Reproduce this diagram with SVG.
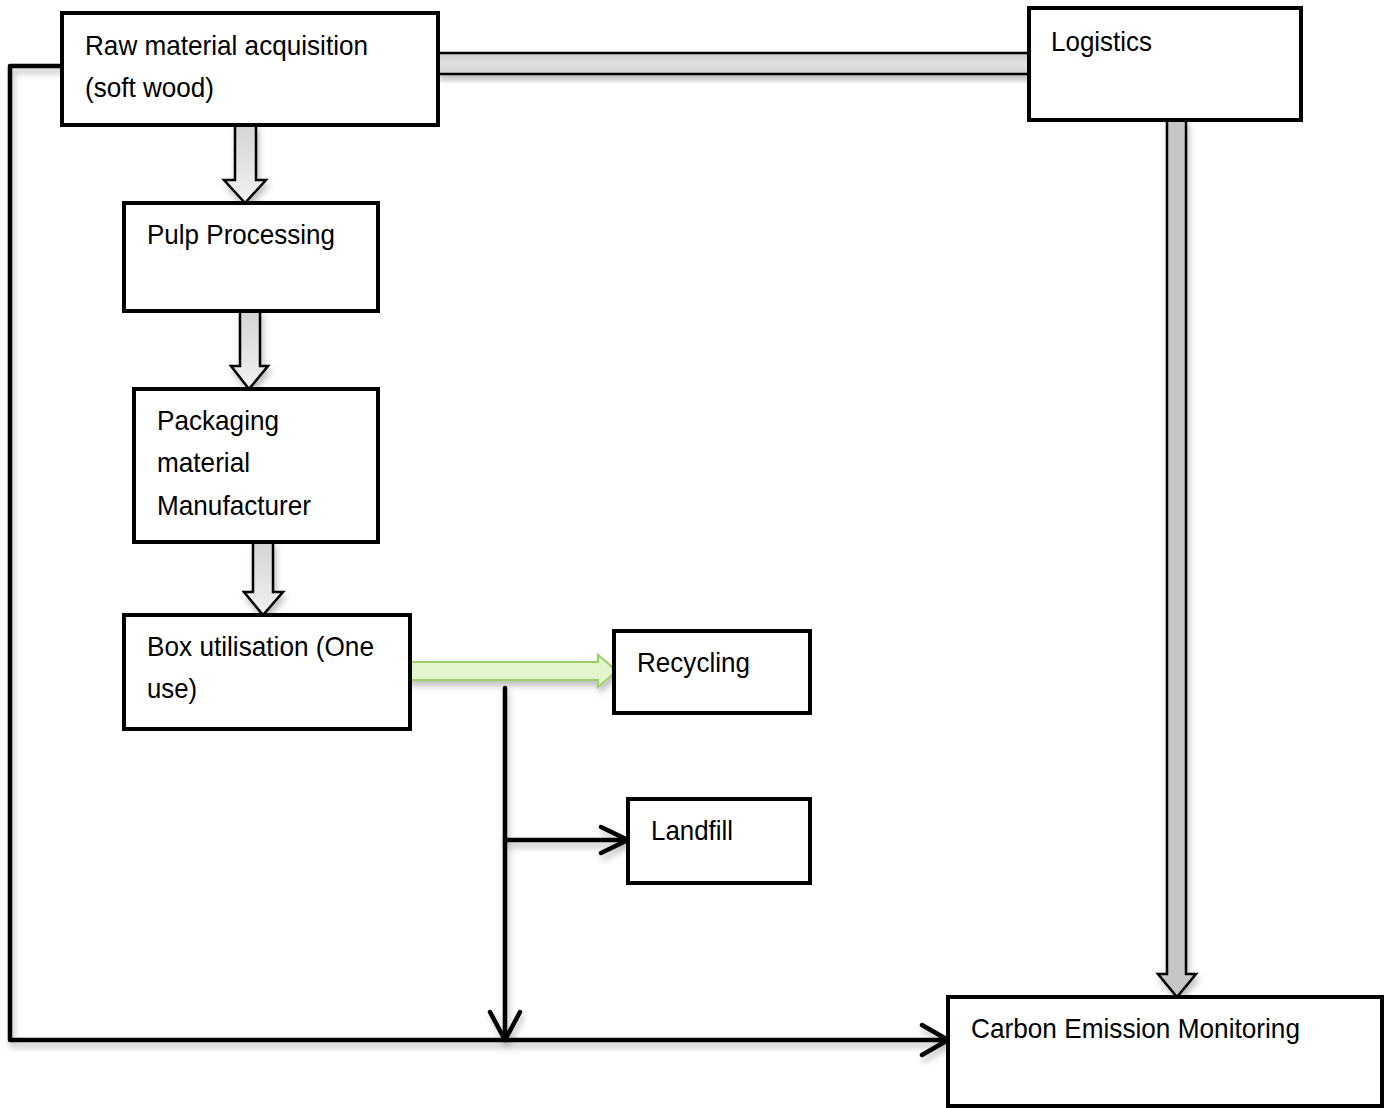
<svg xmlns="http://www.w3.org/2000/svg" width="1392" height="1108" viewBox="0 0 1392 1108">
<style>
.box{fill:#fff;stroke:#000;stroke-width:4}
.t{font-family:"Liberation Sans",Arial,sans-serif;font-size:28px;fill:#000}
.blk{fill:url(#gv);stroke:#000;stroke-width:2.5;stroke-linejoin:miter}
.ln{fill:none;stroke:#000;stroke-width:4.5;stroke-linecap:round;stroke-linejoin:round}
</style>
<defs>
<linearGradient id="gv" x1="0" y1="0" x2="0" y2="1">
<stop offset="0" stop-color="#d4d4d4"/><stop offset="1" stop-color="#f2f2f2"/>
</linearGradient>
<linearGradient id="gh" x1="0" y1="0" x2="0" y2="1">
<stop offset="0" stop-color="#c8c8c8"/><stop offset="0.5" stop-color="#e2e2e2"/><stop offset="1" stop-color="#d0d0d0"/>
</linearGradient>
<filter id="sh" x="-20%" y="-20%" width="140%" height="160%">
<feDropShadow dx="2" dy="5" stdDeviation="3" flood-color="#000" flood-opacity="0.25"/>
</filter>
</defs>
<g id="connectors">
<path class="ln" filter="url(#sh)" d="M62,66 H10 V1040 H948 M922,1025 L948,1040 L922,1055"/>
<path class="ln" filter="url(#sh)" d="M505,688 V1040 M490,1012 L505,1040 L520,1012"/>
<path class="ln" filter="url(#sh)" d="M505,840 H628 M601,827 L628,840 L601,853"/>
<rect x="438" y="53" width="591" height="21" fill="url(#gh)" stroke="#000" stroke-width="2.5" filter="url(#sh)"/>
<path class="blk" filter="url(#sh)" d="M235,125 H256 V180 H266 L245,203 L224,180 H235 Z"/>
<path class="blk" filter="url(#sh)" d="M240,311 H260 V366 H268 L249,389 L231,366 H240 Z"/>
<path class="blk" filter="url(#sh)" d="M253,542 H273 V592 H283 L263,615 L244,592 H253 Z"/>
<path filter="url(#sh)" d="M1167,120 H1186 V974 H1196 L1177,997 L1158,974 H1167 Z" fill="#c6c6c6" stroke="#000" stroke-width="2.5"/>
<path filter="url(#sh)" d="M409,662 H598 V655 L617,671 L598,687 V680 H409 Z" fill="#e3f5cc" stroke="#9ccf66" stroke-width="2"/>
</g>
<g id="raw"><rect class="box" x="62" y="13" width="376" height="112"/>
<text class="t" x="85" y="55" textLength="283" lengthAdjust="spacingAndGlyphs">Raw material acquisition</text>
<text class="t" x="85" y="97" textLength="129" lengthAdjust="spacingAndGlyphs">(soft wood)</text></g>
<g id="logistics"><rect class="box" x="1029" y="8" width="272" height="112"/>
<text class="t" x="1051" y="51" textLength="101" lengthAdjust="spacingAndGlyphs">Logistics</text></g>
<g id="pulp"><rect class="box" x="124" y="203" width="254" height="108"/>
<text class="t" x="147" y="244" textLength="188" lengthAdjust="spacingAndGlyphs">Pulp Processing</text></g>
<g id="packaging"><rect class="box" x="134" y="389" width="244" height="153"/>
<text class="t" x="157" y="430" textLength="122" lengthAdjust="spacingAndGlyphs">Packaging</text>
<text class="t" x="157" y="472" textLength="93" lengthAdjust="spacingAndGlyphs">material</text>
<text class="t" x="157" y="515" textLength="154" lengthAdjust="spacingAndGlyphs">Manufacturer</text></g>
<g id="box"><rect class="box" x="124" y="615" width="286" height="114"/>
<text class="t" x="147" y="656" textLength="227" lengthAdjust="spacingAndGlyphs">Box utilisation (One</text>
<text class="t" x="147" y="698" textLength="50" lengthAdjust="spacingAndGlyphs">use)</text></g>
<g id="recycling"><rect class="box" x="614" y="631" width="196" height="82"/>
<text class="t" x="637" y="672" textLength="113" lengthAdjust="spacingAndGlyphs">Recycling</text></g>
<g id="landfill"><rect class="box" x="628" y="799" width="182" height="84"/>
<text class="t" x="651" y="840" textLength="82" lengthAdjust="spacingAndGlyphs">Landfill</text></g>
<g id="carbon"><rect class="box" x="948" y="997" width="434" height="109"/>
<text class="t" x="971" y="1038" textLength="329" lengthAdjust="spacingAndGlyphs">Carbon Emission Monitoring</text></g>
</svg>
